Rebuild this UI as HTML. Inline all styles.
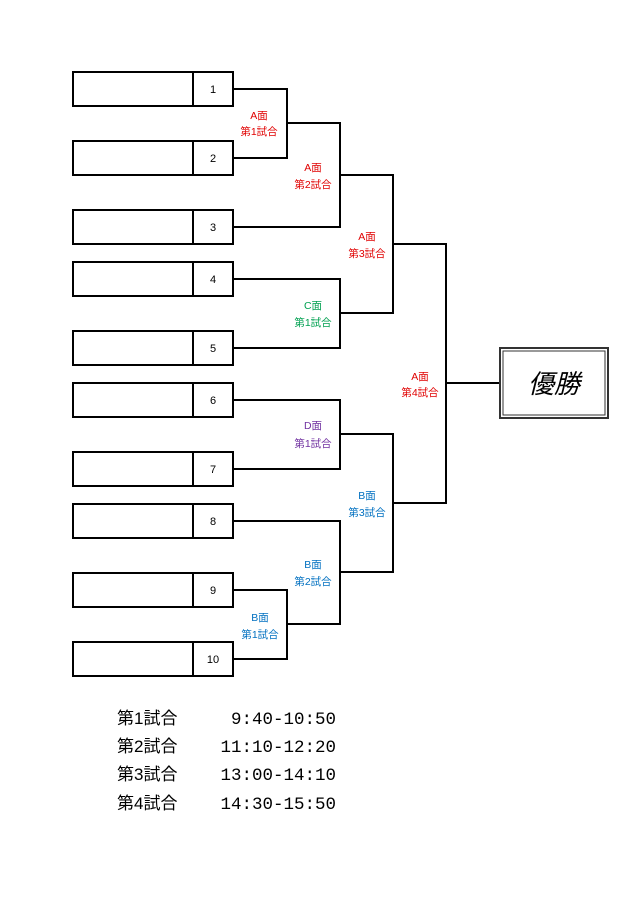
<!DOCTYPE html>
<html><head><meta charset="utf-8"><style>
body{margin:0;background:#fff;width:640px;height:905px;overflow:hidden}
svg text{font-family:"Liberation Sans","Noto Sans CJK JP",sans-serif}
svg text.m{font-family:"Liberation Mono","Noto Sans CJK JP",monospace}
</style></head><body>
<svg width="640" height="905" xmlns="http://www.w3.org/2000/svg">
<g fill="none" stroke="#000" stroke-width="2">
<rect x="73" y="72" width="160" height="34"/><line x1="193" y1="72" x2="193" y2="106"/>
<rect x="73" y="141" width="160" height="34"/><line x1="193" y1="141" x2="193" y2="175"/>
<rect x="73" y="210" width="160" height="34"/><line x1="193" y1="210" x2="193" y2="244"/>
<rect x="73" y="262" width="160" height="34"/><line x1="193" y1="262" x2="193" y2="296"/>
<rect x="73" y="331" width="160" height="34"/><line x1="193" y1="331" x2="193" y2="365"/>
<rect x="73" y="383" width="160" height="34"/><line x1="193" y1="383" x2="193" y2="417"/>
<rect x="73" y="452" width="160" height="34"/><line x1="193" y1="452" x2="193" y2="486"/>
<rect x="73" y="504" width="160" height="34"/><line x1="193" y1="504" x2="193" y2="538"/>
<rect x="73" y="573" width="160" height="34"/><line x1="193" y1="573" x2="193" y2="607"/>
<rect x="73" y="642" width="160" height="34"/><line x1="193" y1="642" x2="193" y2="676"/>
<polyline points="233,89 287,89 287,158 233,158"/>
<polyline points="287,123 340,123 340,227 233,227"/>
<polyline points="233,279 340,279 340,348 233,348"/>
<polyline points="340,175 393,175 393,313 340,313"/>
<polyline points="393,244 446,244 446,503 393,503"/>
<polyline points="233,400 340,400 340,469 233,469"/>
<polyline points="233,590 287,590 287,659 233,659"/>
<polyline points="233,521 340,521 340,624 287,624"/>
<polyline points="340,434 393,434 393,572 340,572"/>
<line x1="446" y1="383" x2="500" y2="383"/>
</g>
<rect x="500" y="348" width="108" height="70" fill="none" stroke="#333" stroke-width="2"/>
<rect x="503" y="351" width="102" height="64" fill="none" stroke="#333" stroke-width="1"/>
<text x="554" y="393" font-size="26" font-style="italic" text-anchor="middle">優勝</text>
<g font-size="11" text-anchor="middle">
<text x="213" y="93">1</text><text x="213" y="162">2</text><text x="213" y="231">3</text><text x="213" y="283">4</text><text x="213" y="352">5</text><text x="213" y="404">6</text><text x="213" y="473">7</text><text x="213" y="525">8</text><text x="213" y="594">9</text><text x="213" y="663">10</text>
</g>
<g font-size="10.5" text-anchor="middle">
<g fill="#e00000">
<text x="259" y="119">A面</text><text x="259" y="135">第1試合</text>
<text x="313" y="171">A面</text><text x="313" y="188">第2試合</text>
<text x="367" y="240">A面</text><text x="367" y="257">第3試合</text>
<text x="420" y="380">A面</text><text x="420" y="396">第4試合</text>
</g>
<g fill="#00a050"><text x="313" y="309">C面</text><text x="313" y="326">第1試合</text></g>
<g fill="#7030a0"><text x="313" y="429">D面</text><text x="313" y="447">第1試合</text></g>
<g fill="#0070c0">
<text x="367" y="499">B面</text><text x="367" y="516">第3試合</text>
<text x="313" y="568">B面</text><text x="313" y="585">第2試合</text>
<text x="260" y="621">B面</text><text x="260" y="638">第1試合</text>
</g>
</g>
<g font-size="17">
<text x="117" y="724">第1試合</text><text class="m" font-size="17.5" x="336" y="724" text-anchor="end">9:40-10:50</text>
<text x="117" y="752">第2試合</text><text class="m" font-size="17.5" x="336" y="752" text-anchor="end">11:10-12:20</text>
<text x="117" y="780">第3試合</text><text class="m" font-size="17.5" x="336" y="780" text-anchor="end">13:00-14:10</text>
<text x="117" y="809">第4試合</text><text class="m" font-size="17.5" x="336" y="809" text-anchor="end">14:30-15:50</text>
</g>
</svg>
</body></html>
